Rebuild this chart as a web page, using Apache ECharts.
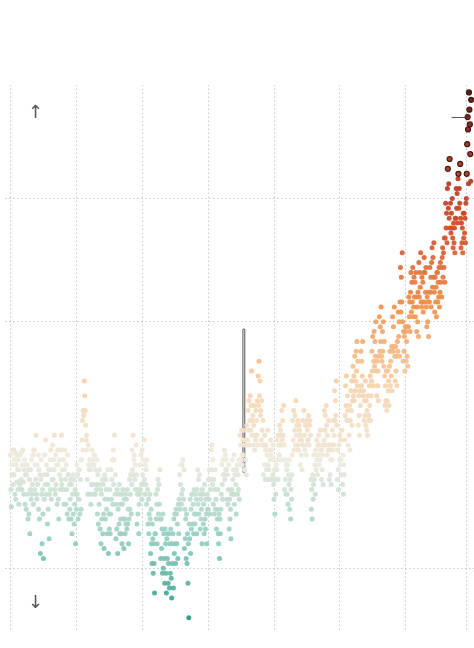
<!DOCTYPE html>
<html><head><meta charset="utf-8">
<script src="https://cdn.jsdelivr.net/npm/echarts@6/dist/echarts.min.js"></script>
<style>html,body{margin:0;padding:0;background:#fff}#c{width:474px;height:648px}</style>
</head><body><div id="c"></div>
<script>
const firstYear = 1850;
// six sampled monthly anomalies per year, in hundredths of a degree
const monthlyAnomaly = [
[-4,-18,-25,-8,-12,-2],[-16,-2,-12,-6,-20,-3],[-22,-8,-4,-15,-10,-18],[-6,-24,-10,-16,-4,-18],[-14,-3,-18,-8,-2,-15],
[-20,-10,-6,-24,-12,-8],[-26,-12,-8,-20,-30,-10],[-28,-14,-36,-18,-10,-22],[-6,-20,-16,-4,-24,-2],[-2,-18,-8,-14,4,-20],
[-22,-8,-16,-4,-26,-10],[-30,-12,-44,-14,-6,-20],[-40,-18,-28,-46,-12,-22],[-4,-16,2,-20,-8,-12],[-32,-16,-26,-10,-38,-20],
[-6,-18,-2,-22,-10,-14],[0,-14,-6,-10,4,-18],[-20,-4,-16,-8,-24,-2],[-8,-22,-30,-6,-12,-18],[-2,-14,4,-16,-10,-6],
[-18,-6,-24,-10,-2,-14],[-24,-8,-18,-28,-4,-12],[-12,-30,-16,-26,-22,-14],[-30,-16,-36,-20,-12,-28],[-14,-32,-24,-18,-40,-20],
[-26,-8,-20,-12,-30,-10],[-22,-10,-28,-14,-6,-26],[-6,2,10,-2,14,12],[26,20,14,8,2,4],[-2,-14,-20,0,-8,-10],
[-6,-20,-10,-24,-16,-8],[-2,-16,-6,-20,-8,-4],[-4,-20,-10,-16,-18,-6],[-28,-12,-32,-16,-24,-10],[-34,-18,-40,-20,-30,-14],
[-36,-16,-28,-42,-12,-22],[-30,-14,-18,-26,-36,-10],[-22,-44,-28,-34,-18,-36],[-28,-10,-22,-14,-6,-24],[-2,-16,-6,4,-20,-12],
[-38,-24,-34,-18,-44,-26],[-20,-32,-16,-36,-24,-30],[-36,-20,-40,-24,-18,-30],[-42,-22,-30,-36,-20,-32],[-22,-34,-18,-32,-26,-40],
[-30,-14,-26,-20,-12,-28],[-16,-2,-10,4,-12,-6],[-4,-14,-8,-18,0,-12],[-32,-20,-28,-18,-36,-24],[-20,-8,-18,-4,-16,-22],
[-2,-12,-6,-16,2,-14],[-20,-8,-16,-10,-24,-6],[-18,-32,-22,-36,-28,-20],[-30,-44,-26,-40,-48,-32],[-38,-52,-40,-48,-60,-36],
[-36,-20,-30,-24,-40,-18],[-14,-28,-16,-24,-10,-30],[-46,-30,-42,-34,-52,-28],[-50,-36,-46,-56,-34,-40],[-52,-60,-38,-46,-36,-56],
[-48,-36,-58,-40,-52,-34],[-54,-62,-40,-48,-36,-58],[-30,-44,-28,-40,-48,-26],[-28,-40,-32,-46,-24,-36],[-22,-12,-26,-16,-8,-24],
[-20,-8,-18,-6,-22,-10],[-42,-26,-38,-30,-46,-28],[-48,-36,-56,-40,-70,-32],[-38,-22,-44,-26,-34,-20],[-20,-32,-24,-36,-18,-28],
[-32,-20,-28,-22,-36,-18],[-10,-24,-14,-28,-12,-20],[-34,-22,-30,-26,-40,-18],[-20,-32,-24,-36,-16,-30],[-34,-22,-28,-40,-20,-26],
[-26,-14,-22,-10,-28,-18],[-14,-2,-10,0,-16,-6],[-24,-14,-28,-18,-10,-26],[-22,-34,-26,-30,-18,-36],[-40,-28,-46,-30,-36,-26],
[-20,-8,-16,-22,-6,-12],[-12,-2,-14,-4,-10,-6],[-10,-22,-12,-24,-18,-8],[-34,-22,-30,-26,-38,-20],[-18,-6,-14,-10,-20,-4],
[-24,-12,-20,-16,-28,-10],[-8,-20,-12,-18,-6,-22],[4,-8,0,-6,6,-4],[-8,2,-4,6,0,-10],[-10,2,-6,-12,8,0],
[2,14,6,18,0,10],[20,6,16,30,4,10],[12,0,8,16,-2,4],[2,14,10,4,18,0],[28,16,34,20,26,12],
[14,2,18,6,0,10],[-12,0,-8,4,-14,-2],[0,-10,-4,-14,6,-8],[-10,-2,-14,-6,2,-4],[-2,-14,-6,-12,0,-16],
[-22,-10,-28,-14,-20,-8],[-10,2,-6,-14,4,0],[-4,8,0,6,-6,4],[14,2,10,4,16,0],[-18,-6,-14,-20,-8,-10],
[-20,-8,-24,-12,-16,-6],[-26,-14,-30,-18,-22,-12],[-4,10,2,14,-2,6],[12,0,18,4,8,-2],[0,10,-2,8,6,2],
[-8,4,-4,2,-10,0],[10,0,14,4,-2,8],[0,8,-4,10,6,2],[2,12,0,8,10,4],[-14,-26,-18,-30,-12,-22],
[-16,-4,-14,-8,-20,-2],[-10,2,-6,-12,0,-4],[4,-8,0,-6,6,-2],[-14,-2,-10,-4,-16,0],[2,14,6,12,0,16],
[8,-4,4,-2,10,0],[-14,-2,-12,-6,-16,0],[-6,6,-2,10,0,4],[22,10,18,12,26,8],[-14,-2,-10,-18,0,-6],
[4,-8,2,-6,-12,6],[-16,-4,-20,-8,-12,2],[12,24,16,28,10,20],[14,0,10,4,16,-2],[10,22,14,26,8,18],
[32,20,28,18,36,22],[26,38,30,42,24,34],[8,20,12,4,22,16],[38,24,34,28,42,20],[22,10,18,12,26,8],
[18,6,14,4,20,10],[12,24,16,28,10,20],[26,38,30,44,24,34],[46,32,42,36,50,30],[20,34,24,30,18,36],
[52,38,48,42,56,36],[34,46,38,50,32,42],[28,16,24,18,30,14],[18,30,22,26,16,32],[38,24,34,28,40,22],
[52,38,48,40,56,36],[26,40,30,36,24,42],[38,54,44,50,36,58],[72,54,68,58,78,50],[34,46,38,44,30,48],
[46,34,42,36,48,32],[48,60,52,58,46,62],[70,54,66,58,72,52],[56,68,60,66,52,70],[60,46,56,50,62,44],
[74,60,70,64,78,58],[56,68,58,66,54,70],[76,58,70,62,72,56],[48,60,50,58,44,62],[58,72,62,68,56,74],
[80,64,76,68,82,62],[54,68,58,64,52,70],[70,58,66,60,72,56],[62,74,66,72,60,76],[80,68,78,72,84,66],
[84,98,88,94,82,104],[112,96,106,92,116,88],[98,86,94,88,100,84],[80,90,82,88,78,92],[92,104,96,102,90,108],
[110,96,104,98,114,92],[80,90,82,88,78,94],[84,94,86,92,82,98],[100,110,122,133,128,106],[143,136,130,118,107,140]
];
const gridYears = [1850,1875,1900,1925,1950,1975,2000,2023];
const gridValues = [-0.5,0.5,1.0];
const highlight = {x0:1938.3, x1:1939.0, y0:-0.11, y1:0.47};
const recordLine = {x0:2017.5, x1:2022.6, y:1.33};

const points = [];
monthlyAnomaly.forEach((row,i)=>{
  row.forEach((v,j)=>{
    const val=v/100, x=firstYear+i+(j+0.5)/row.length;
    const p={value:[x,val]};
    if(val>=1.1) p.itemStyle={borderColor:'#3a150c',borderWidth:1.2};
    points.push(p);
  });
});

const chart = echarts.init(document.getElementById('c'));
const dotted={color:'#c8c8c8',type:[1.5,2.5],width:1};
chart.setOption({
  animation:false,
  grid:{left:5,right:0,top:85,bottom:18},
  xAxis:{type:'value',min:1848,max:2026,show:false,splitLine:{show:false}},
  yAxis:{type:'value',min:-0.75,max:1.46,show:false,splitLine:{show:false}},
  visualMap:{show:false,type:'continuous',dimension:1,seriesIndex:0,min:-0.7,max:1.5,
    inRange:{color:['#2f9a8c','#93cfc2','#eeebdf','#f7d3ad','#f1944e','#d4502c','#a8301e','#3a0f08']}},
  series:[
    {type:'scatter',symbolSize:5,data:points,z:3,itemStyle:{opacity:0.95},
      markLine:{silent:true,symbol:'none',label:{show:false},lineStyle:dotted,z:1,
        data:gridYears.map(y=>({xAxis:y})).concat(gridValues.map(v=>({yAxis:v})))}},
    {type:'line',data:[],z:5,
      markLine:{silent:true,symbol:'none',label:{show:false},
        data:[
          [{coord:[1846,0],lineStyle:{color:'#999',width:1.5,type:'solid'}},{coord:[2030,0]}],
          [{coord:[recordLine.x0,recordLine.y],lineStyle:{color:'#555',width:1,type:'solid'}},{coord:[recordLine.x1,recordLine.y]}]
        ]},
      markArea:{silent:true,itemStyle:{color:'#ffffff',borderColor:'#555',borderWidth:1},
        data:[[{coord:[highlight.x0,highlight.y0]},{coord:[highlight.x1,highlight.y1]}]]}}
  ],
  graphic:[
    {type:'text',left:28,top:104,style:{text:'↑',fontSize:18,fill:'#555',fontFamily:'DejaVu Sans'}},
    {type:'text',left:28,top:594,style:{text:'↓',fontSize:18,fill:'#555',fontFamily:'DejaVu Sans'}}
  ]
});
</script></body></html>
